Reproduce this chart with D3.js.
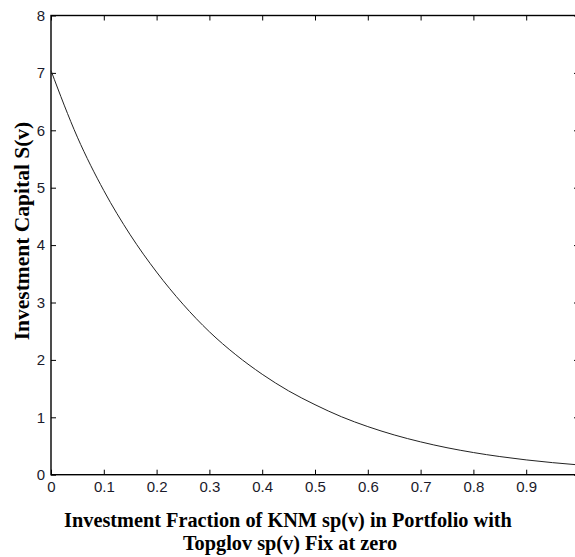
<!DOCTYPE html>
<html>
<head>
<meta charset="utf-8">
<script src="https://cdn.jsdelivr.net/npm/d3@7"></script>
<style>
  html, body { margin: 0; padding: 0; background: #fff; }
  svg { display: block; }
</style>
</head>
<body>
<svg id="chart" width="575" height="557"></svg>
<script>
// Investment fraction v of KNM sp(v) and the resulting investment capital S(v)
const fractions = [0, 0.05, 0.1, 0.15, 0.2, 0.25, 0.3, 0.35, 0.4, 0.45, 0.5,
                   0.55, 0.6, 0.65, 0.7, 0.75, 0.8, 0.85, 0.9, 0.95, 1.0];
const capital   = [7.04, 5.88, 4.95, 4.18, 3.53, 2.97, 2.49, 2.09, 1.75, 1.46, 1.22,
                   1.01, 0.838, 0.693, 0.572, 0.470, 0.386, 0.316, 0.258, 0.210, 0.170];

const xTicks = [0, 0.1, 0.2, 0.3, 0.4, 0.5, 0.6, 0.7, 0.8, 0.9];
const yTicks = [0, 1, 2, 3, 4, 5, 6, 7, 8];

const xLabelLines = ["Investment Fraction of KNM sp(v) in Portfolio with",
                     "Topglov sp(v) Fix at zero"];
const yLabel = "Investment Capital S(v)";

const svg = d3.select("#chart");
const plot = { left: 51, right: 579, top: 15.5, bottom: 474.7 };

const x = d3.scaleLinear().domain([0, 1]).range([plot.left, plot.right]);
const y = d3.scaleLinear().domain([0, 8]).range([plot.bottom, plot.top]);

const tickFont = "Liberation Sans, Arial, sans-serif";
const fmt = d => d3.format("~g")(d);

// bottom axis with labels, ticks pointing inward
const gx = svg.append("g")
  .attr("transform", `translate(0,${plot.bottom})`)
  .call(d3.axisBottom(x).tickValues(xTicks).tickFormat(fmt)
        .tickSizeInner(-5).tickSizeOuter(0).tickPadding(7));
// left axis with labels
const gy = svg.append("g")
  .attr("transform", `translate(${plot.left},0)`)
  .call(d3.axisLeft(y).tickValues(yTicks).tickFormat(fmt)
        .tickSizeInner(-5).tickSizeOuter(0).tickPadding(6));
// mirrored ticks on top and right
const gt = svg.append("g")
  .attr("transform", `translate(0,${plot.top})`)
  .call(d3.axisTop(x).tickValues(xTicks).tickFormat("")
        .tickSizeInner(-5).tickSizeOuter(0));
const gr = svg.append("g")
  .attr("transform", `translate(${plot.right},0)`)
  .call(d3.axisRight(y).tickValues(yTicks).tickFormat("")
        .tickSizeInner(-5).tickSizeOuter(0));

[gx, gy, gt, gr].forEach(g => {
  g.select(".domain").remove();
  g.selectAll(".tick line").attr("stroke", "#000").attr("stroke-width", 1);
  g.selectAll(".tick text")
    .attr("font-family", tickFont)
    .attr("font-size", 15)
    .attr("fill", "#1a1a2a");
});

// plot frame
svg.append("rect")
  .attr("x", plot.left).attr("y", plot.top)
  .attr("width", plot.right - plot.left)
  .attr("height", plot.bottom - plot.top)
  .attr("fill", "none").attr("stroke", "#000").attr("stroke-width", 1.4);

// curve
const pts = fractions.map((v, i) => [v, capital[i]]);
svg.append("path")
  .datum(pts)
  .attr("fill", "none")
  .attr("stroke", "#222")
  .attr("stroke-width", 1)
  .attr("d", d3.line().x(d => x(d[0])).y(d => y(d[1])).curve(d3.curveMonotoneX));

// axis titles
const titleFont = "Liberation Serif, Times New Roman, serif";
svg.append("text")
  .attr("x", 288).attr("y", 527)
  .attr("text-anchor", "middle")
  .attr("font-family", titleFont).attr("font-weight", "bold").attr("font-size", 20.3)
  .attr("fill", "#000")
  .text(xLabelLines[0]);
svg.append("text")
  .attr("x", 290).attr("y", 550)
  .attr("text-anchor", "middle")
  .attr("font-family", titleFont).attr("font-weight", "bold").attr("font-size", 20.3)
  .attr("fill", "#000")
  .text(xLabelLines[1]);
svg.append("text")
  .attr("transform", "translate(29,231) rotate(-90)")
  .attr("text-anchor", "middle")
  .attr("font-family", titleFont).attr("font-weight", "bold").attr("font-size", 21.5)
  .attr("fill", "#000")
  .text(yLabel);
</script>
</body>
</html>
